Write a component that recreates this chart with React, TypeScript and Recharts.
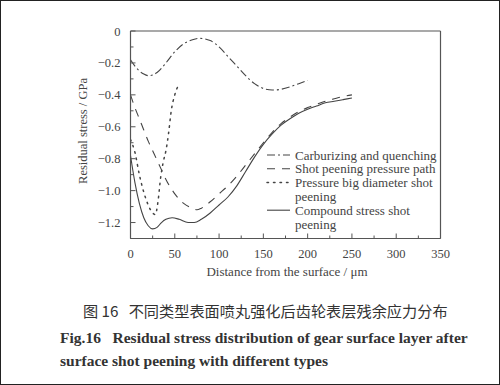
import React from 'react';
import { LineChart, Line, XAxis, YAxis, ReferenceLine } from 'recharts';

// distances (um) and residual stress (GPa)
const carbX = [0, 5, 10, 15, 20, 25, 30, 40, 50, 60, 70, 78, 90, 100, 110, 120, 130, 140, 150, 160, 170, 180, 190, 200];
const carbY = [-0.18, -0.22, -0.25, -0.27, -0.28, -0.275, -0.26, -0.2, -0.13, -0.08, -0.055, -0.046, -0.06, -0.1, -0.16, -0.22, -0.28, -0.33, -0.36, -0.37, -0.365, -0.35, -0.33, -0.31];

const pathX = [0, 5, 10, 15, 20, 25, 30, 35, 40, 50, 60, 70, 75, 80, 90, 100, 110, 120, 130, 140, 150, 160, 170, 180, 190, 200, 210, 220, 230, 240, 250];
const pathY = [-0.4, -0.48, -0.55, -0.62, -0.69, -0.75, -0.81, -0.87, -0.93, -1.02, -1.08, -1.11, -1.12, -1.11, -1.07, -1.02, -0.97, -0.91, -0.84, -0.77, -0.7, -0.635, -0.58, -0.54, -0.505, -0.48, -0.46, -0.44, -0.425, -0.41, -0.4];

const bigX = [0, 5, 10, 15, 20, 25, 28, 31, 34, 37, 40, 43, 46, 50, 55];
const bigY = [-0.68, -0.76, -0.9, -1.01, -1.09, -1.14, -1.15, -1.07, -0.92, -0.82, -0.75, -0.64, -0.5, -0.4, -0.33];

const compX = [0, 5, 10, 15, 20, 25, 30, 35, 40, 47, 55, 65, 72, 80, 90, 100, 110, 120, 130, 140, 150, 160, 170, 180, 190, 200, 210, 220, 230, 240, 250];
const compY = [-0.78, -0.95, -1.08, -1.17, -1.22, -1.24, -1.23, -1.2, -1.18, -1.17, -1.18, -1.2, -1.2, -1.18, -1.14, -1.09, -1.04, -0.97, -0.88, -0.79, -0.71, -0.645, -0.59, -0.55, -0.515, -0.49, -0.47, -0.45, -0.44, -0.43, -0.42];

const xTicks = [0, 25, 50, 75, 100, 125, 150, 175, 200, 225, 250, 275, 300, 325, 350];
const yTicks = [0, -0.1, -0.2, -0.3, -0.4, -0.5, -0.6, -0.7, -0.8, -0.9, -1.0, -1.1, -1.2, -1.3];

const legendNames = [
  ['Carburizing and quenching'],
  ['Shot peening pressure path'],
  ['Pressure big diameter shot', 'peening'],
  ['Compound stress shot', 'peening'],
];

const toPoints = (xs: number[], ys: number[]) => xs.map((x, i) => ({ x, y: ys[i] }));

const serif = '"Liberation Serif", "Times New Roman", serif';
const ink = '#444';
const axisInk = '#555';

const XTick = (props: any) => {
  const { x, y, payload } = props;
  const major = payload.value % 50 === 0;
  return (
    <g>
      <line x1={x} x2={x} y1={y} y2={y - (major ? 5 : 3)} stroke={axisInk} />
      {major && (
        <text x={x} y={y + 19} textAnchor="middle" fontFamily={serif} fontSize={12.5} fill={ink}>
          {payload.value}
        </text>
      )}
    </g>
  );
};

const YTick = (props: any) => {
  const { x, y, payload } = props;
  const k = Math.round(-payload.value * 10);
  const major = k % 2 === 0;
  const label = k === 0 ? '0' : '\u2212' + (k / 10).toFixed(1);
  return (
    <g>
      <line x1={x} x2={x + (major ? 5 : 3)} y1={y} y2={y} stroke={axisInk} />
      {major && k !== 13 && (
        <text x={x - 10} y={y + 4.5} textAnchor="end" fontFamily={serif} fontSize={12.5} fill={ink}>
          {label}
        </text>
      )}
    </g>
  );
};

const dashes = ['8 3 2 3', '8 7', '1.5 5', undefined];

const LegendBox = () => {
  let row = 0;
  return (
    <g transform="translate(266 146)">
      {legendNames.map((lines, i) => {
        const cy = 9 + row * 13.8;
        const g = (
          <g key={i}>
            <line x1={1} x2={24} y1={cy} y2={cy} stroke={ink} strokeWidth={i === 2 ? 1.5 : 1.1} strokeLinecap={i === 2 ? 'round' : 'butt'} strokeDasharray={dashes[i]} />
            {lines.map((t, j) => (
              <text key={j} x={29} y={cy + 4.5 + j * 13.8} fontFamily={serif} fontSize={13} fill={ink}>
                {t}
              </text>
            ))}
          </g>
        );
        row += lines.length;
        return g;
      })}
    </g>
  );
};

export default function App() {
  return (
    <div style={{ position: 'absolute', left: 0, top: 0, width: 500, height: 385, background: '#fff' }}>
      <LineChart width={500} height={385} margin={{ top: 31, right: 59.5, bottom: 0, left: 0 }}>
        <XAxis
          type="number"
          dataKey="x"
          domain={[0, 350]}
          ticks={xTicks}
          interval={0}
          height={146.5}
          tickLine={false}
          tickSize={0}
          tickMargin={0}
          tick={<XTick />}
          stroke={axisInk}
          strokeWidth={1.2}
          allowDataOverflow
        />
        <YAxis
          type="number"
          dataKey="y"
          domain={[-1.3, 0]}
          ticks={yTicks}
          interval={0}
          width={130.5}
          tickLine={false}
          tickSize={0}
          tickMargin={0}
          tick={<YTick />}
          stroke={axisInk}
          strokeWidth={1.2}
          allowDataOverflow
        />
        <ReferenceLine y={0} stroke={axisInk} strokeWidth={1.2} />
        <ReferenceLine x={350} stroke={axisInk} strokeWidth={1.2} />
        <Line data={toPoints(carbX, carbY)} dataKey="y" type="monotone" stroke={ink} strokeWidth={1.1} strokeDasharray={dashes[0]} dot={false} isAnimationActive={false} />
        <Line data={toPoints(pathX, pathY)} dataKey="y" type="monotone" stroke={ink} strokeWidth={1.1} strokeDasharray={dashes[1]} dot={false} isAnimationActive={false} />
        <Line data={toPoints(bigX, bigY)} dataKey="y" type="monotone" stroke={ink} strokeWidth={1.5} strokeDasharray={dashes[2]} strokeLinecap="round" dot={false} isAnimationActive={false} />
        <Line data={toPoints(compX, compY)} dataKey="y" type="monotone" stroke={ink} strokeWidth={1.1} dot={false} isAnimationActive={false} />
      </LineChart>
      <svg style={{ position: 'absolute', left: 0, top: 0 }} width={500} height={385}>
        <LegendBox />
        <text x={83} y={131} transform="rotate(-90 83 131)" textAnchor="middle" dominantBaseline="central" fontFamily={serif} fontSize={12.5} fill={ink}>
          Residual stress / GPa
        </text>
        <text x={287} y={276} textAnchor="middle" fontFamily={serif} fontSize={13} fill={ink}>
          Distance from the surface / μm
        </text>
      </svg>
      <div style={{ position: 'absolute', left: 83, top: 301, fontFamily: '"Noto Sans CJK SC", sans-serif', fontSize: 15.2, lineHeight: '18px', color: '#333', whiteSpace: 'pre' }}>
        {'图 16   不同类型表面喷丸强化后齿轮表层残余应力分布'}
      </div>
      <div style={{ position: 'absolute', left: 60, top: 326, fontFamily: serif, fontWeight: 'bold', fontSize: 15.5, lineHeight: '23px', color: '#333', whiteSpace: 'pre' }}>
        {'Fig.16   Residual stress distribution of gear surface layer after\nsurface shot peening with different types'}
      </div>
      <div style={{ position: 'absolute', left: 0, top: 0, width: 500, height: 385, boxSizing: 'border-box', border: '1px solid #222', pointerEvents: 'none' }} />
    </div>
  );
}
